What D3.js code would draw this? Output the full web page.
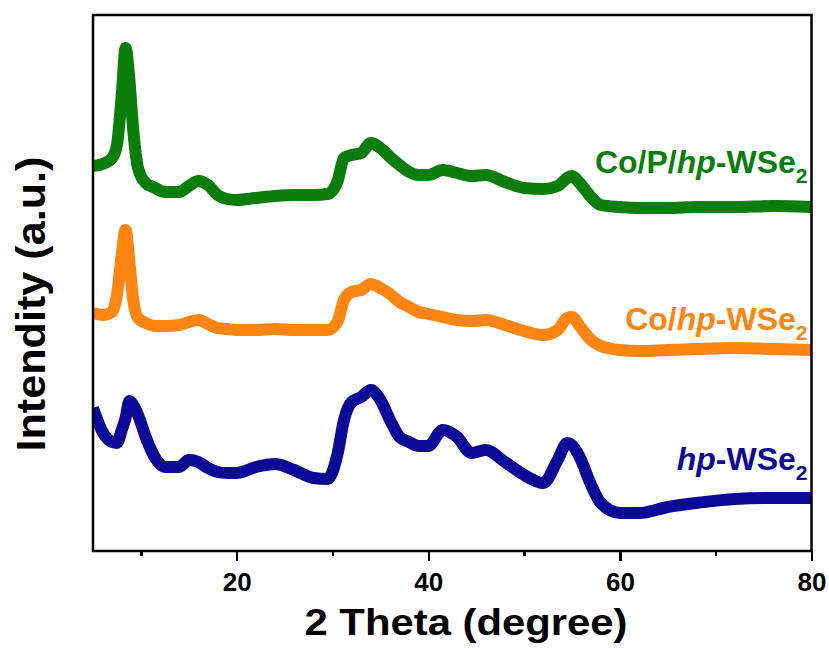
<!DOCTYPE html>
<meta charset="utf-8">
<style>
body { margin: 0; background: #fff; }
svg { font-family: "Liberation Sans", Arial, sans-serif; }
.axis path, .axis line { stroke: #000; stroke-width: 2.5; shape-rendering: crispEdges; }
.trace { fill: none; stroke-width: 12; stroke-linejoin: round; stroke-linecap: butt; }
</style>
<body>
<script src="https://cdn.jsdelivr.net/npm/d3@7"></script>
<script>
// 2 theta positions (degree) shared by the three patterns
var theta = [5, 6, 7, 7.5, 8, 8.4, 8.8, 9.2, 9.7, 10.5,
  11.5, 12.5, 14, 15, 16, 17, 18, 19, 20, 22,
  24, 26, 28, 29.5, 30.5, 31.2, 32, 33, 34, 35,
  36, 37, 38, 39, 40, 41.5, 43, 44.5, 46, 48,
  50, 52, 53.5, 54.5, 55, 55.8, 57, 58, 60, 62,
  65, 68, 72, 76, 80];

// intensities (a.u., already offset for stacking)
var coPWSe2 = [382, 384, 390, 403, 453, 500, 468, 418, 380, 365,
  360, 356, 356, 362, 367, 363, 353, 349, 348, 350,
  352, 353, 353, 354, 366, 390, 393, 395, 405, 400,
  391, 383, 376, 373, 373, 378, 375, 372, 373, 366,
  360, 359, 362, 370, 372, 365, 351, 343, 341, 340,
  340, 341, 341, 342, 341];

var coWSe2 = [235, 233, 236, 253, 293, 318, 286, 248, 230, 225,
  222, 222, 223, 226, 228, 224, 220, 219, 218, 218,
  219, 218, 218, 218, 226, 248, 256, 258, 264, 260,
  254, 246, 241, 236, 234, 231, 228, 227, 228, 223,
  217, 213, 218, 230, 231, 222, 208, 202, 198, 197,
  198, 199, 200, 199, 198];

var hpWSe2 = [140, 116, 106, 105, 118, 130, 147, 143, 133, 111,
  90, 81, 81, 88, 86, 80, 76, 75, 75, 81,
  84, 78, 70, 69, 93, 128, 146, 151, 158, 148,
  128, 111, 106, 102, 102, 118, 111, 95, 98, 86,
  73, 65, 88, 105, 103, 91, 63, 45, 35, 35,
  41, 45, 49, 50, 50];

var majorTicks = [20, 40, 60, 80];
var minorTicks = [10, 30, 50, 70];

var margin = {top: 15, right: 17.5, bottom: 97, left: 93},
    width = 829 - margin.left - margin.right,
    height = 648 - margin.top - margin.bottom;

var x = d3.scaleLinear().domain([5, 80]).range([0, width]);
var y = d3.scaleLinear().domain([-3, 533]).range([height, 0]);

var svg = d3.select("body").append("svg")
    .attr("width", 829)
    .attr("height", 648)
  .append("g")
    .attr("transform", "translate(" + margin.left + "," + margin.top + ")");

var line = d3.line()
    .x(function(d) { return x(d[0]); })
    .y(function(d) { return y(d[1]); })
    .curve(d3.curveMonotoneX);

var series = [
  {name: "Co/P/", vals: coPWSe2, color: "#0a7d0a", lab: 375},
  {name: "Co/", vals: coWSe2, color: "#ff8512", lab: 218},
  {name: "", vals: hpWSe2, color: "#0a0a96", lab: 78}
];

svg.append("clipPath").attr("id", "clip")
  .append("rect").attr("width", width).attr("height", height);

series.forEach(function(s) {
  svg.append("path")
      .attr("class", "trace")
      .attr("clip-path", "url(#clip)")
      .attr("stroke", s.color)
      .attr("d", line(d3.zip(theta, s.vals)));

  var t = svg.append("text")
      .attr("x", x(80) - 4)
      .attr("y", y(s.lab))
      .attr("text-anchor", "end")
      .attr("fill", s.color)
      .style("font-size", "32px")
      .style("font-weight", "bold");
  if (s.name) t.append("tspan").text(s.name);
  t.append("tspan").style("font-style", "italic").text("hp");
  t.append("tspan").text("-WSe");
  t.append("tspan").attr("dy", 10).style("font-size", "21px").text("2");
});

// frame
svg.append("rect")
    .attr("width", width)
    .attr("height", height)
    .attr("fill", "none")
    .attr("stroke", "#000")
    .attr("stroke-width", 2.5);

// x axis, major + minor ticks
var xAxis = svg.append("g")
    .attr("class", "axis")
    .attr("transform", "translate(0," + height + ")")
    .call(d3.axisBottom(x).tickValues(majorTicks).tickSize(10).tickFormat(d3.format("d")));
xAxis.select(".domain").remove();
xAxis.selectAll("text")
    .attr("y", 22)
    .style("font-size", "26px")
    .style("font-weight", "bold")
    .style("font-family", "'Liberation Sans', Arial, sans-serif");

var xMinor = svg.append("g")
    .attr("class", "axis")
    .attr("transform", "translate(0," + height + ")")
    .call(d3.axisBottom(x).tickValues(minorTicks).tickSize(5).tickFormat(""));
xMinor.select(".domain").remove();

// axis titles
svg.append("text")
    .attr("x", 466 - margin.left)
    .attr("y", 635 - margin.top)
    .attr("text-anchor", "middle")
    .attr("textLength", 323)
    .attr("lengthAdjust", "spacingAndGlyphs")
    .style("font-size", "37px")
    .style("font-weight", "bold")
    .text("2 Theta (degree)");

svg.append("text")
    .attr("transform", "translate(" + (45 - margin.left) + "," + (304 - margin.top) + ") rotate(-90)")
    .attr("text-anchor", "middle")
    .attr("textLength", 295)
    .attr("lengthAdjust", "spacingAndGlyphs")
    .style("font-size", "40px")
    .style("font-weight", "bold")
    .text("Intendity (a.u.)");
</script>
</body>
